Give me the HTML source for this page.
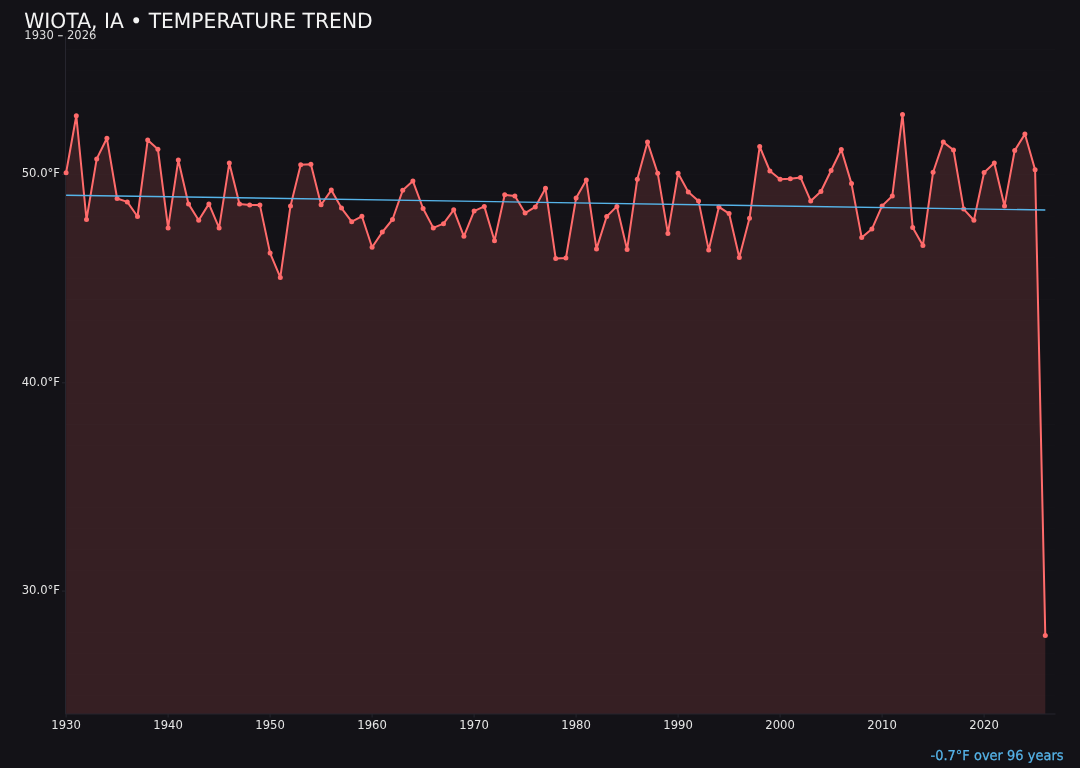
<!DOCTYPE html>
<html lang="en">
<head>
<meta charset="utf-8">
<title>Wiota, IA • Temperature Trend</title>
<style>
html,body{margin:0;padding:0;background:#131217;}
body{width:1080px;height:768px;overflow:hidden;position:relative;font-family:"DejaVu Sans","Liberation Sans",sans-serif;}
svg{display:block;position:absolute;left:0;top:0;}
svg text{font-family:"DejaVu Sans","Liberation Sans",sans-serif;}
.tick text{font-size:11.6px;fill:#e6e6e6;}
</style>
</head>
<body>
<svg width="1080" height="768" viewBox="0 0 1080 768">
<rect x="0" y="0" width="1080" height="768" fill="#131217"/>
<g stroke="#ffffff" stroke-opacity="0.012" stroke-width="1" fill="none"><line x1="65.5" y1="695.2" x2="1055.5" y2="695.2"/><line x1="65.5" y1="674.4" x2="1055.5" y2="674.4"/><line x1="65.5" y1="653.6" x2="1055.5" y2="653.6"/><line x1="65.5" y1="632.8" x2="1055.5" y2="632.8"/><line x1="65.5" y1="611.9" x2="1055.5" y2="611.9"/><line x1="65.5" y1="591.1" x2="1055.5" y2="591.1"/><line x1="65.5" y1="570.3" x2="1055.5" y2="570.3"/><line x1="65.5" y1="549.4" x2="1055.5" y2="549.4"/><line x1="65.5" y1="528.6" x2="1055.5" y2="528.6"/><line x1="65.5" y1="507.8" x2="1055.5" y2="507.8"/><line x1="65.5" y1="486.9" x2="1055.5" y2="486.9"/><line x1="65.5" y1="466.1" x2="1055.5" y2="466.1"/><line x1="65.5" y1="445.3" x2="1055.5" y2="445.3"/><line x1="65.5" y1="424.5" x2="1055.5" y2="424.5"/><line x1="65.5" y1="403.6" x2="1055.5" y2="403.6"/><line x1="65.5" y1="382.8" x2="1055.5" y2="382.8"/><line x1="65.5" y1="362.0" x2="1055.5" y2="362.0"/><line x1="65.5" y1="341.1" x2="1055.5" y2="341.1"/><line x1="65.5" y1="320.3" x2="1055.5" y2="320.3"/><line x1="65.5" y1="299.5" x2="1055.5" y2="299.5"/><line x1="65.5" y1="278.6" x2="1055.5" y2="278.6"/><line x1="65.5" y1="257.8" x2="1055.5" y2="257.8"/><line x1="65.5" y1="237.0" x2="1055.5" y2="237.0"/><line x1="65.5" y1="216.2" x2="1055.5" y2="216.2"/><line x1="65.5" y1="195.3" x2="1055.5" y2="195.3"/><line x1="65.5" y1="174.5" x2="1055.5" y2="174.5"/><line x1="65.5" y1="153.7" x2="1055.5" y2="153.7"/><line x1="65.5" y1="132.8" x2="1055.5" y2="132.8"/><line x1="65.5" y1="112.0" x2="1055.5" y2="112.0"/><line x1="65.5" y1="91.2" x2="1055.5" y2="91.2"/><line x1="65.5" y1="70.4" x2="1055.5" y2="70.4"/><line x1="65.5" y1="49.5" x2="1055.5" y2="49.5"/></g>
<path d="M66.1,714.0 L66.1,172.7 L76.3,115.8 L86.5,219.5 L96.7,158.9 L106.9,138.3 L117.1,198.5 L127.3,201.9 L137.5,216.5 L147.7,140.1 L157.9,149.2 L168.1,227.9 L178.3,160.1 L188.5,203.9 L198.7,220.2 L208.9,203.9 L219.1,227.9 L229.3,163.1 L239.5,203.9 L249.7,205.1 L259.9,205.1 L270.1,253.1 L280.3,277.4 L290.5,205.9 L300.7,164.8 L310.9,164.3 L321.1,204.7 L331.3,190.1 L341.5,208.1 L351.7,221.7 L361.9,216.3 L372.1,247.2 L382.3,232.1 L392.5,219.5 L402.7,190.3 L412.9,181.1 L423.1,208.5 L433.3,227.9 L443.5,223.7 L453.7,209.8 L463.9,236.3 L474.1,211.1 L484.3,206.4 L494.5,240.8 L504.7,194.8 L514.9,196.0 L525.1,213.1 L535.3,206.9 L545.5,188.3 L555.7,258.6 L565.9,258.1 L576.1,198.0 L586.3,179.9 L596.5,248.9 L606.7,216.5 L616.9,206.4 L627.1,249.4 L637.3,179.2 L647.5,142.1 L657.7,173.2 L667.9,233.4 L678.1,173.2 L688.3,192.0 L698.5,200.9 L708.7,249.9 L718.9,206.9 L729.1,213.6 L739.3,257.4 L749.5,218.3 L759.7,146.5 L769.9,171.0 L780.1,179.2 L790.3,178.7 L800.5,177.4 L810.7,200.9 L820.9,191.5 L831.1,170.5 L841.3,149.5 L851.5,183.6 L861.7,237.6 L871.9,229.1 L882.1,205.9 L892.3,196.0 L902.5,114.6 L912.7,227.4 L922.9,245.5 L933.1,172.2 L943.3,142.1 L953.5,150.0 L963.7,209.1 L973.9,220.2 L984.1,172.5 L994.3,163.1 L1004.5,205.9 L1014.7,150.5 L1024.9,134.1 L1035.1,169.8 L1045.3,635.6 L1045.3,714.0 Z" fill="#ff6b6b" fill-opacity="0.15" stroke="none"/>
<g stroke="#26252e" stroke-width="1" fill="none">
<line x1="65.5" y1="36.5" x2="65.5" y2="714.0"/>
<line x1="65.5" y1="714.0" x2="1055.5" y2="714.0"/>
<line x1="66.1" y1="714.0" x2="66.1" y2="717.5"/><line x1="168.1" y1="714.0" x2="168.1" y2="717.5"/><line x1="270.1" y1="714.0" x2="270.1" y2="717.5"/><line x1="372.1" y1="714.0" x2="372.1" y2="717.5"/><line x1="474.1" y1="714.0" x2="474.1" y2="717.5"/><line x1="576.1" y1="714.0" x2="576.1" y2="717.5"/><line x1="678.1" y1="714.0" x2="678.1" y2="717.5"/><line x1="780.1" y1="714.0" x2="780.1" y2="717.5"/><line x1="882.1" y1="714.0" x2="882.1" y2="717.5"/><line x1="984.1" y1="714.0" x2="984.1" y2="717.5"/><line x1="62.0" y1="174.5" x2="65.5" y2="174.5"/><line x1="62.0" y1="382.8" x2="65.5" y2="382.8"/><line x1="62.0" y1="591.1" x2="65.5" y2="591.1"/>
</g>
<polyline points="66.1,172.7 76.3,115.8 86.5,219.5 96.7,158.9 106.9,138.3 117.1,198.5 127.3,201.9 137.5,216.5 147.7,140.1 157.9,149.2 168.1,227.9 178.3,160.1 188.5,203.9 198.7,220.2 208.9,203.9 219.1,227.9 229.3,163.1 239.5,203.9 249.7,205.1 259.9,205.1 270.1,253.1 280.3,277.4 290.5,205.9 300.7,164.8 310.9,164.3 321.1,204.7 331.3,190.1 341.5,208.1 351.7,221.7 361.9,216.3 372.1,247.2 382.3,232.1 392.5,219.5 402.7,190.3 412.9,181.1 423.1,208.5 433.3,227.9 443.5,223.7 453.7,209.8 463.9,236.3 474.1,211.1 484.3,206.4 494.5,240.8 504.7,194.8 514.9,196.0 525.1,213.1 535.3,206.9 545.5,188.3 555.7,258.6 565.9,258.1 576.1,198.0 586.3,179.9 596.5,248.9 606.7,216.5 616.9,206.4 627.1,249.4 637.3,179.2 647.5,142.1 657.7,173.2 667.9,233.4 678.1,173.2 688.3,192.0 698.5,200.9 708.7,249.9 718.9,206.9 729.1,213.6 739.3,257.4 749.5,218.3 759.7,146.5 769.9,171.0 780.1,179.2 790.3,178.7 800.5,177.4 810.7,200.9 820.9,191.5 831.1,170.5 841.3,149.5 851.5,183.6 861.7,237.6 871.9,229.1 882.1,205.9 892.3,196.0 902.5,114.6 912.7,227.4 922.9,245.5 933.1,172.2 943.3,142.1 953.5,150.0 963.7,209.1 973.9,220.2 984.1,172.5 994.3,163.1 1004.5,205.9 1014.7,150.5 1024.9,134.1 1035.1,169.8 1045.3,635.6" fill="none" stroke="#ff6b6b" stroke-width="2.0" stroke-linejoin="round" stroke-linecap="round"/>
<g fill="#ff6b6b">
<circle cx="66.1" cy="172.7" r="2.5"/>
<circle cx="76.3" cy="115.8" r="2.5"/>
<circle cx="86.5" cy="219.5" r="2.5"/>
<circle cx="96.7" cy="158.9" r="2.5"/>
<circle cx="106.9" cy="138.3" r="2.5"/>
<circle cx="117.1" cy="198.5" r="2.5"/>
<circle cx="127.3" cy="201.9" r="2.5"/>
<circle cx="137.5" cy="216.5" r="2.5"/>
<circle cx="147.7" cy="140.1" r="2.5"/>
<circle cx="157.9" cy="149.2" r="2.5"/>
<circle cx="168.1" cy="227.9" r="2.5"/>
<circle cx="178.3" cy="160.1" r="2.5"/>
<circle cx="188.5" cy="203.9" r="2.5"/>
<circle cx="198.7" cy="220.2" r="2.5"/>
<circle cx="208.9" cy="203.9" r="2.5"/>
<circle cx="219.1" cy="227.9" r="2.5"/>
<circle cx="229.3" cy="163.1" r="2.5"/>
<circle cx="239.5" cy="203.9" r="2.5"/>
<circle cx="249.7" cy="205.1" r="2.5"/>
<circle cx="259.9" cy="205.1" r="2.5"/>
<circle cx="270.1" cy="253.1" r="2.5"/>
<circle cx="280.3" cy="277.4" r="2.5"/>
<circle cx="290.5" cy="205.9" r="2.5"/>
<circle cx="300.7" cy="164.8" r="2.5"/>
<circle cx="310.9" cy="164.3" r="2.5"/>
<circle cx="321.1" cy="204.7" r="2.5"/>
<circle cx="331.3" cy="190.1" r="2.5"/>
<circle cx="341.5" cy="208.1" r="2.5"/>
<circle cx="351.7" cy="221.7" r="2.5"/>
<circle cx="361.9" cy="216.3" r="2.5"/>
<circle cx="372.1" cy="247.2" r="2.5"/>
<circle cx="382.3" cy="232.1" r="2.5"/>
<circle cx="392.5" cy="219.5" r="2.5"/>
<circle cx="402.7" cy="190.3" r="2.5"/>
<circle cx="412.9" cy="181.1" r="2.5"/>
<circle cx="423.1" cy="208.5" r="2.5"/>
<circle cx="433.3" cy="227.9" r="2.5"/>
<circle cx="443.5" cy="223.7" r="2.5"/>
<circle cx="453.7" cy="209.8" r="2.5"/>
<circle cx="463.9" cy="236.3" r="2.5"/>
<circle cx="474.1" cy="211.1" r="2.5"/>
<circle cx="484.3" cy="206.4" r="2.5"/>
<circle cx="494.5" cy="240.8" r="2.5"/>
<circle cx="504.7" cy="194.8" r="2.5"/>
<circle cx="514.9" cy="196.0" r="2.5"/>
<circle cx="525.1" cy="213.1" r="2.5"/>
<circle cx="535.3" cy="206.9" r="2.5"/>
<circle cx="545.5" cy="188.3" r="2.5"/>
<circle cx="555.7" cy="258.6" r="2.5"/>
<circle cx="565.9" cy="258.1" r="2.5"/>
<circle cx="576.1" cy="198.0" r="2.5"/>
<circle cx="586.3" cy="179.9" r="2.5"/>
<circle cx="596.5" cy="248.9" r="2.5"/>
<circle cx="606.7" cy="216.5" r="2.5"/>
<circle cx="616.9" cy="206.4" r="2.5"/>
<circle cx="627.1" cy="249.4" r="2.5"/>
<circle cx="637.3" cy="179.2" r="2.5"/>
<circle cx="647.5" cy="142.1" r="2.5"/>
<circle cx="657.7" cy="173.2" r="2.5"/>
<circle cx="667.9" cy="233.4" r="2.5"/>
<circle cx="678.1" cy="173.2" r="2.5"/>
<circle cx="688.3" cy="192.0" r="2.5"/>
<circle cx="698.5" cy="200.9" r="2.5"/>
<circle cx="708.7" cy="249.9" r="2.5"/>
<circle cx="718.9" cy="206.9" r="2.5"/>
<circle cx="729.1" cy="213.6" r="2.5"/>
<circle cx="739.3" cy="257.4" r="2.5"/>
<circle cx="749.5" cy="218.3" r="2.5"/>
<circle cx="759.7" cy="146.5" r="2.5"/>
<circle cx="769.9" cy="171.0" r="2.5"/>
<circle cx="780.1" cy="179.2" r="2.5"/>
<circle cx="790.3" cy="178.7" r="2.5"/>
<circle cx="800.5" cy="177.4" r="2.5"/>
<circle cx="810.7" cy="200.9" r="2.5"/>
<circle cx="820.9" cy="191.5" r="2.5"/>
<circle cx="831.1" cy="170.5" r="2.5"/>
<circle cx="841.3" cy="149.5" r="2.5"/>
<circle cx="851.5" cy="183.6" r="2.5"/>
<circle cx="861.7" cy="237.6" r="2.5"/>
<circle cx="871.9" cy="229.1" r="2.5"/>
<circle cx="882.1" cy="205.9" r="2.5"/>
<circle cx="892.3" cy="196.0" r="2.5"/>
<circle cx="902.5" cy="114.6" r="2.5"/>
<circle cx="912.7" cy="227.4" r="2.5"/>
<circle cx="922.9" cy="245.5" r="2.5"/>
<circle cx="933.1" cy="172.2" r="2.5"/>
<circle cx="943.3" cy="142.1" r="2.5"/>
<circle cx="953.5" cy="150.0" r="2.5"/>
<circle cx="963.7" cy="209.1" r="2.5"/>
<circle cx="973.9" cy="220.2" r="2.5"/>
<circle cx="984.1" cy="172.5" r="2.5"/>
<circle cx="994.3" cy="163.1" r="2.5"/>
<circle cx="1004.5" cy="205.9" r="2.5"/>
<circle cx="1014.7" cy="150.5" r="2.5"/>
<circle cx="1024.9" cy="134.1" r="2.5"/>
<circle cx="1035.1" cy="169.8" r="2.5"/>
<circle cx="1045.3" cy="635.6" r="2.5"/>
</g>
<line x1="66.1" y1="195.2" x2="1045.3" y2="210.0" stroke="#56b4e9" stroke-width="1.4" stroke-linecap="butt"/>
<g class="tick">
<text x="66.1" y="729.3" text-anchor="middle">1930</text>
<text x="168.1" y="729.3" text-anchor="middle">1940</text>
<text x="270.1" y="729.3" text-anchor="middle">1950</text>
<text x="372.1" y="729.3" text-anchor="middle">1960</text>
<text x="474.1" y="729.3" text-anchor="middle">1970</text>
<text x="576.1" y="729.3" text-anchor="middle">1980</text>
<text x="678.1" y="729.3" text-anchor="middle">1990</text>
<text x="780.1" y="729.3" text-anchor="middle">2000</text>
<text x="882.1" y="729.3" text-anchor="middle">2010</text>
<text x="984.1" y="729.3" text-anchor="middle">2020</text>
<text x="60" y="177.0" text-anchor="end">50.0°F</text>
<text x="60" y="386.0" text-anchor="end">40.0°F</text>
<text x="60" y="594.0" text-anchor="end">30.0°F</text>
</g>
<text transform="translate(24.3 27.5) skewX(0.05) scale(1 1.03)" x="0" y="0" font-size="20.3px" fill="#f4f4f4">WIOTA, IA • TEMPERATURE TREND</text>
<text transform="translate(24.3 39.2) skewX(0.05) scale(1 1.04)" x="0" y="0" font-size="11.6px" fill="#dddddd">1930 – 2026</text>
<text transform="translate(1063.5 760.1) skewX(0.05) scale(0.995 1.045)" x="0" y="0" font-size="13.07px" fill="#56b4e9" stroke="#56b4e9" stroke-width="0.25" text-anchor="end">-0.7°F over 96 years</text>
</svg>
</body>
</html>
